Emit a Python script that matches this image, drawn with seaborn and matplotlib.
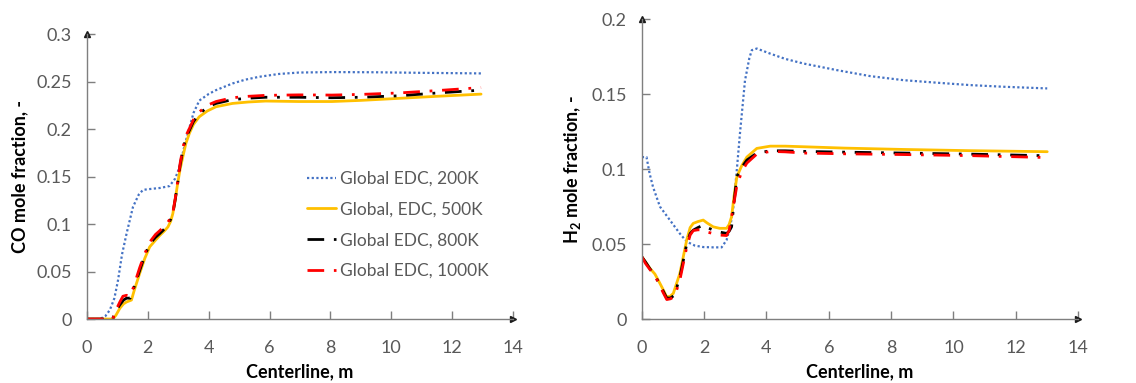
import numpy as np
import pandas as pd
import seaborn as sns
import matplotlib.pyplot as plt
from matplotlib.ticker import FixedLocator, FixedFormatter

sns.set_theme(style="white")
plt.rcParams['font.family'] = ['Lato', 'DejaVu Sans']
plt.rcParams['mathtext.fontset'] = 'custom'
plt.rcParams['mathtext.rm'] = 'Lato'
plt.rcParams['mathtext.bf'] = 'Lato:bold'

labels = ["Global EDC, 200K", "Global, EDC, 500K", "Global EDC, 800K", "Global EDC, 1000K"]

# ---- CO mole fraction (left panel) ----
co_x_200 = [0, 0.42, 0.6, 0.75, 0.9, 1.02, 1.15, 1.30, 1.51, 1.70, 1.84, 2.1, 2.4, 2.71, 2.9, 3.04, 3.2, 3.37, 3.5, 3.69, 4.0, 4.24, 4.78, 5.2, 5.65, 6.3, 6.96, 8.05, 9.5, 11.0, 12.95]
co_y_200 = [0, 0, 0.003, 0.0095, 0.022, 0.041, 0.068, 0.090, 0.118, 0.131, 0.136, 0.137, 0.138, 0.140, 0.148, 0.160, 0.182, 0.202, 0.217, 0.230, 0.237, 0.241, 0.248, 0.252, 0.255, 0.258, 0.2595, 0.260, 0.2598, 0.2592, 0.2586]

co_x_500 = [0, 0.85, 0.95, 1.08, 1.20, 1.30, 1.46, 1.55, 1.73, 1.90, 2.06, 2.25, 2.39, 2.55, 2.66, 2.75, 2.82, 2.90, 2.98, 3.06, 3.15, 3.25, 3.37, 3.5, 3.69, 3.95, 4.24, 4.78, 5.3, 5.87, 6.96, 8.05, 9.0, 10.23, 11.5, 12.95]
co_y_500 = [0, 0, 0.004, 0.0114, 0.016, 0.018, 0.020, 0.030, 0.048, 0.064, 0.076, 0.083, 0.088, 0.093, 0.097, 0.103, 0.111, 0.126, 0.143, 0.158, 0.171, 0.185, 0.196, 0.205, 0.213, 0.219, 0.2235, 0.227, 0.2285, 0.2295, 0.229, 0.229, 0.2302, 0.2323, 0.2345, 0.2368]

co_x_800 = [0, 0.85, 0.88, 1.08, 1.20, 1.30, 1.42, 1.51, 1.73, 1.90, 2.06, 2.25, 2.39, 2.55, 2.66, 2.75, 2.82, 2.90, 2.98, 3.06, 3.15, 3.25, 3.37, 3.5, 3.69, 3.95, 4.24, 4.78, 5.3, 5.87, 6.96, 8.05, 9.0, 10.23, 11.5, 12.95]
co_y_800 = [0, 0, 0.005, 0.015, 0.020, 0.022, 0.022, 0.030, 0.051, 0.067, 0.079, 0.086, 0.090, 0.095, 0.100, 0.105, 0.111, 0.126, 0.143, 0.162, 0.178, 0.191, 0.199, 0.208, 0.216, 0.223, 0.227, 0.231, 0.2325, 0.2335, 0.2335, 0.233, 0.2335, 0.235, 0.238, 0.241]

co_x_1000 = [0, 0.85, 0.90, 1.08, 1.18, 1.30, 1.40, 1.51, 1.73, 1.90, 2.06, 2.25, 2.39, 2.55, 2.66, 2.75, 2.82, 2.90, 2.98, 3.06, 3.15, 3.25, 3.37, 3.5, 3.69, 3.95, 4.24, 4.78, 5.3, 5.87, 6.96, 8.05, 9.0, 10.23, 11.5, 12.95]
co_y_1000 = [0, 0, 0.006, 0.018, 0.024, 0.025, 0.024, 0.032, 0.054, 0.069, 0.081, 0.089, 0.093, 0.098, 0.102, 0.107, 0.112, 0.127, 0.145, 0.164, 0.180, 0.193, 0.201, 0.210, 0.218, 0.225, 0.229, 0.233, 0.2345, 0.2355, 0.236, 0.2358, 0.2365, 0.238, 0.2405, 0.2437]

# ---- H2 mole fraction (right panel) ----
h2_x_200 = [0, 0.15, 0.25, 0.36, 0.58, 0.90, 1.22, 1.44, 1.70, 1.97, 2.30, 2.56, 2.72, 2.85, 2.94, 3.05, 3.15, 3.31, 3.45, 3.53, 3.69, 4.12, 4.6, 5.19, 6.26, 7.33, 8.40, 9.48, 10.55, 11.62, 13.01]
h2_y_200 = [0.108, 0.108, 0.097, 0.088, 0.075, 0.066, 0.057, 0.0516, 0.049, 0.048, 0.0478, 0.0478, 0.0527, 0.063, 0.075, 0.100, 0.124, 0.159, 0.174, 0.1793, 0.1804, 0.177, 0.1735, 0.1704, 0.166, 0.162, 0.1593, 0.1576, 0.156, 0.1549, 0.1538]

h2_x_500 = [0, 0.12, 0.26, 0.42, 0.58, 0.70, 0.79, 0.90, 1.01, 1.22, 1.44, 1.55, 1.65, 1.80, 1.97, 2.10, 2.29, 2.50, 2.72, 2.80, 2.88, 2.96, 3.05, 3.20, 3.37, 3.69, 4.12, 4.6, 5.19, 6.5, 8.40, 10.5, 13.01]
h2_y_500 = [0.0415, 0.038, 0.0338, 0.030, 0.0238, 0.019, 0.0149, 0.0150, 0.0171, 0.0304, 0.0527, 0.061, 0.0638, 0.065, 0.066, 0.064, 0.0615, 0.0605, 0.0605, 0.063, 0.0682, 0.082, 0.0949, 0.102, 0.108, 0.1138, 0.1153, 0.1153, 0.1149, 0.1140, 0.1131, 0.1123, 0.1116]

h2_x_800 = [0, 0.12, 0.26, 0.42, 0.58, 0.70, 0.80, 0.92, 1.05, 1.22, 1.44, 1.55, 1.65, 1.80, 1.97, 2.10, 2.29, 2.50, 2.72, 2.80, 2.88, 2.96, 3.05, 3.20, 3.37, 3.69, 4.12, 4.6, 5.19, 6.5, 8.40, 10.5, 13.01]
h2_y_800 = [0.0415, 0.038, 0.0335, 0.029, 0.023, 0.018, 0.014, 0.014, 0.016, 0.028, 0.050, 0.057, 0.0593, 0.061, 0.0627, 0.061, 0.0593, 0.058, 0.0571, 0.0585, 0.0615, 0.078, 0.0951, 0.101, 0.106, 0.1107, 0.1122, 0.1122, 0.1118, 0.1113, 0.1107, 0.1100, 0.1089]

h2_x_1000 = [0, 0.12, 0.26, 0.42, 0.58, 0.70, 0.80, 0.92, 1.05, 1.22, 1.44, 1.55, 1.65, 1.80, 1.97, 2.10, 2.29, 2.50, 2.72, 2.80, 2.88, 2.96, 3.05, 3.20, 3.37, 3.69, 4.12, 4.6, 5.19, 6.5, 8.40, 10.5, 13.01]
h2_y_1000 = [0.0415, 0.037, 0.0330, 0.029, 0.022, 0.017, 0.013, 0.0135, 0.015, 0.026, 0.048, 0.056, 0.059, 0.0595, 0.0595, 0.058, 0.057, 0.056, 0.0557, 0.059, 0.068, 0.078, 0.089, 0.098, 0.104, 0.110, 0.1118, 0.1115, 0.1107, 0.1102, 0.1097, 0.1090, 0.1077]

x_ticks = [0, 2, 4, 6, 8, 10, 12, 14]
x_tick_labels = ["0", "2", "4", "6", "8", "10", "12", "14"]
co_ticks = [0, 0.05, 0.1, 0.15, 0.2, 0.25, 0.3]
co_tick_labels = ["0", "0.05", "0.1", "0.15", "0.2", "0.25", "0.3"]
h2_ticks = [0, 0.05, 0.1, 0.15, 0.2]
h2_tick_labels = ["0", "0.05", "0.1", "0.15", "0.2"]

colors = ["#4472C4", "#FFC000", "#000000", "#FF0000"]
styles = [(0, (1, 1.1)), "-", (0, (6, 3.5, 1, 3.5)), (0, (6, 3.5, 1, 3.5))]
widths = [1.6, 2.0, 2.0, 2.0]

fig = plt.figure(figsize=(11.36, 3.83), dpi=100)
ax1 = fig.add_axes([0.0766, 0.167, 0.375, 0.744])
ax2 = fig.add_axes([0.565, 0.167, 0.384, 0.783])

co_series = [(co_x_200, co_y_200), (co_x_500, co_y_500), (co_x_800, co_y_800), (co_x_1000, co_y_1000)]
h2_series = [(h2_x_200, h2_y_200), (h2_x_500, h2_y_500), (h2_x_800, h2_y_800), (h2_x_1000, h2_y_1000)]

for ax, series in [(ax1, co_series), (ax2, h2_series)]:
    for (xs, ys), lab, c, ls, lw in zip(series, labels, colors, styles, widths):
        df = pd.DataFrame({"x": xs, "y": ys})
        sns.lineplot(data=df, x="x", y="y", ax=ax, color=c, linestyle=ls, linewidth=lw,
                     label=lab, sort=False, estimator=None)

grey = "#595959"
spine_c = "#7F7F7F"
for ax, yt, ytl, ylim in [(ax1, co_ticks, co_tick_labels, 0.3), (ax2, h2_ticks, h2_tick_labels, 0.2)]:
    ax.set_xlim(0, 14)
    ax.set_ylim(0, ylim)
    ax.xaxis.set_major_locator(FixedLocator(x_ticks))
    ax.xaxis.set_major_formatter(FixedFormatter(x_tick_labels))
    ax.yaxis.set_major_locator(FixedLocator(yt))
    ax.yaxis.set_major_formatter(FixedFormatter(ytl))
    for s in ["top", "right"]:
        ax.spines[s].set_visible(False)
    for s in ["left", "bottom"]:
        ax.spines[s].set_color(spine_c)
        ax.spines[s].set_linewidth(1.0)
    ax.tick_params(axis="both", direction="in", length=6, width=1.0, color=spine_c,
                   labelsize=13, labelcolor=grey, left=True, bottom=True)
    ax.tick_params(axis="y", pad=11)
    ax.tick_params(axis="x", pad=15)
    ax.plot(1, 0, ">k", transform=ax.transAxes, clip_on=False, markersize=5)
    ax.plot(0, 1, "^k", transform=ax.transAxes, clip_on=False, markersize=5)
    ax.set_xlabel("Centerline, m", fontsize=13, fontweight="bold", color="black", labelpad=5)

ax1.set_ylabel("CO mole fraction, -", fontsize=13, fontweight="bold", color="black", labelpad=6)
ax2.set_ylabel(r"H$_\mathbf{2}$ mole fraction, -", fontsize=13, fontweight="bold", color="black", labelpad=6)

ax2.get_legend().remove()
leg = ax1.legend(loc="upper left", bbox_to_anchor=(0.5, 0.545), frameon=False, fontsize=12.5,
                 handlelength=1.7, handletextpad=0.2, labelspacing=0.85, borderaxespad=0)
for t in leg.get_texts():
    t.set_color(grey)

fig.savefig("out.png", dpi=100)
